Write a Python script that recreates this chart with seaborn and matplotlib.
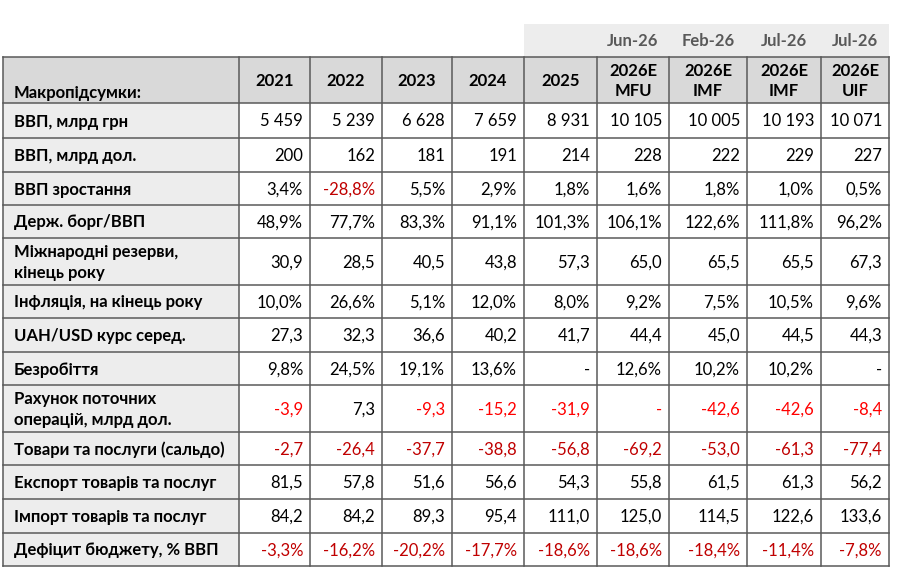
import matplotlib
matplotlib.use("Agg")
import matplotlib.pyplot as plt
import seaborn as sns
from matplotlib.patches import Rectangle

# table content
col_headers = ["2021", "2022", "2023", "2024", "2025",
               "2026E\nMFU", "2026E\nIMF", "2026E\nIMF", "2026E\nUIF"]
top_labels = ["", "", "", "", "", "Jun-26", "Feb-26", "Jul-26", "Jul-26"]
row_labels = ["ВВП, млрд грн", "ВВП, млрд дол.", "ВВП зростання", "Держ. борг/ВВП",
              "Міжнародні резерви,\nкінець року", "Інфляція, на кінець року",
              "UAH/USD курс серед.", "Безробіття", "Рахунок поточних\nоперацій, млрд дол.",
              "Товари та послуги (сальдо)", "Експорт товарів та послуг",
              "Імпорт товарів та послуг", "Дефіцит бюджету, % ВВП"]

gdp_uah = [5459, 5239, 6628, 7659, 8931, 10105, 10005, 10193, 10071]
gdp_usd = [200, 162, 181, 191, 214, 228, 222, 229, 227]
gdp_growth = [3.4, -28.8, 5.5, 2.9, 1.8, 1.6, 1.8, 1.0, 0.5]
debt_gdp = [48.9, 77.7, 83.3, 91.1, 101.3, 106.1, 122.6, 111.8, 96.2]
reserves = [30.9, 28.5, 40.5, 43.8, 57.3, 65.0, 65.5, 65.5, 67.3]
inflation = [10.0, 26.6, 5.1, 12.0, 8.0, 9.2, 7.5, 10.5, 9.6]
uah_usd = [27.3, 32.3, 36.6, 40.2, 41.7, 44.4, 45.0, 44.5, 44.3]
unemployment = [9.8, 24.5, 19.1, 13.6, None, 12.6, 10.2, 10.2, None]
current_account = [-3.9, 7.3, -9.3, -15.2, -31.9, None, -42.6, -42.6, -8.4]
goods_services = [-2.7, -26.4, -37.7, -38.8, -56.8, -69.2, -53.0, -61.3, -77.4]
exports = [81.5, 57.8, 51.6, 56.6, 54.3, 55.8, 61.5, 61.3, 56.2]
imports = [84.2, 84.2, 89.3, 95.4, 111.0, 125.0, 114.5, 122.6, 133.6]
budget_deficit = [-3.3, -16.2, -20.2, -17.7, -18.6, -18.6, -18.4, -11.4, -7.8]

values = [gdp_uah, gdp_usd, gdp_growth, debt_gdp, reserves, inflation, uah_usd,
          unemployment, current_account, goods_services, exports, imports, budget_deficit]
formats = ["int", "int", "pct", "pct", "dec", "pct", "dec", "pct", "dec", "dec", "dec", "dec", "pct"]

DARK_RED = "#c00000"
BRIGHT_RED = "#ff0000"
neg_colors = [DARK_RED] * 13
neg_colors[8] = BRIGHT_RED
dash_colors = ["black"] * 13
dash_colors[8] = BRIGHT_RED


def fmt(v, kind):
    if v is None:
        return "-"
    if kind == "int":
        return f"{v:,.0f}".replace(",", " ")
    s = f"{v:.1f}".replace(".", ",")
    return s + "%" if kind == "pct" else s


# layout (pixels)
x_edges = [3, 239, 310, 382, 452, 524, 597, 669, 747, 821, 889]
y_edges = [57, 103, 138, 172, 205, 238, 285, 318, 352, 385, 432, 465, 499, 533, 566]
strip_top = 24

sns.set_theme(style="white")
plt.rcParams["font.family"] = ["Lato", "DejaVu Sans"]

fig = plt.figure(figsize=(8.99, 5.71), dpi=100)
ax = fig.add_axes([0, 0, 1, 1])
ax.set_xlim(0, 899)
ax.set_ylim(571, 0)
ax.axis("off")

line_c = "#5a5a5a"
lw = 1.1
fs = 12

# top strip
ax.add_patch(Rectangle((x_edges[5], strip_top), x_edges[-1] - x_edges[5], y_edges[0] - strip_top,
                       facecolor="#ededed", edgecolor="none"))
for j, lab in enumerate(top_labels):
    if lab:
        ax.text((x_edges[j + 1] + x_edges[j + 2]) / 2, (strip_top + y_edges[0]) / 2 + 1, lab,
                ha="center", va="center", fontsize=fs, fontweight="bold", color="#595959")

# header row
ax.add_patch(Rectangle((x_edges[0], y_edges[0]), x_edges[-1] - x_edges[0], y_edges[1] - y_edges[0],
                       facecolor="#d9d9d9", edgecolor="none"))
ax.text(x_edges[0] + 11, y_edges[1] - 10, "Макропідсумки:", ha="left", va="center",
        fontsize=fs, fontweight="bold", color="black")
for j, h in enumerate(col_headers):
    ax.text((x_edges[j + 1] + x_edges[j + 2]) / 2, (y_edges[0] + y_edges[1]) / 2 + 1, h,
            ha="center", va="center", fontsize=fs, fontweight="bold", color="black",
            linespacing=1.3)

# label column + body
for i, lab in enumerate(row_labels):
    y0, y1 = y_edges[i + 1], y_edges[i + 2]
    yc = (y0 + y1) / 2 + 1
    ax.add_patch(Rectangle((x_edges[0], y0), x_edges[1] - x_edges[0], y1 - y0,
                           facecolor="#ededed", edgecolor="none"))
    ax.text(x_edges[0] + 11, yc, lab, ha="left", va="center", fontsize=fs,
            fontweight="bold", color="black", linespacing=1.4)
    for j, v in enumerate(values[i]):
        if v is None:
            c = dash_colors[i]
        elif v < 0:
            c = neg_colors[i]
        else:
            c = "black"
        ax.text(x_edges[j + 2] - 7, yc, fmt(v, formats[i]), ha="right", va="center",
                fontsize=fs, color=c)

# grid lines
for x in x_edges:
    ax.plot([x, x], [y_edges[0], y_edges[-1]], color=line_c, lw=lw, solid_capstyle="projecting")
for y in y_edges:
    ax.plot([x_edges[0], x_edges[-1]], [y, y], color=line_c, lw=lw, solid_capstyle="projecting")

fig.savefig("out.png", dpi=100, facecolor="white")
